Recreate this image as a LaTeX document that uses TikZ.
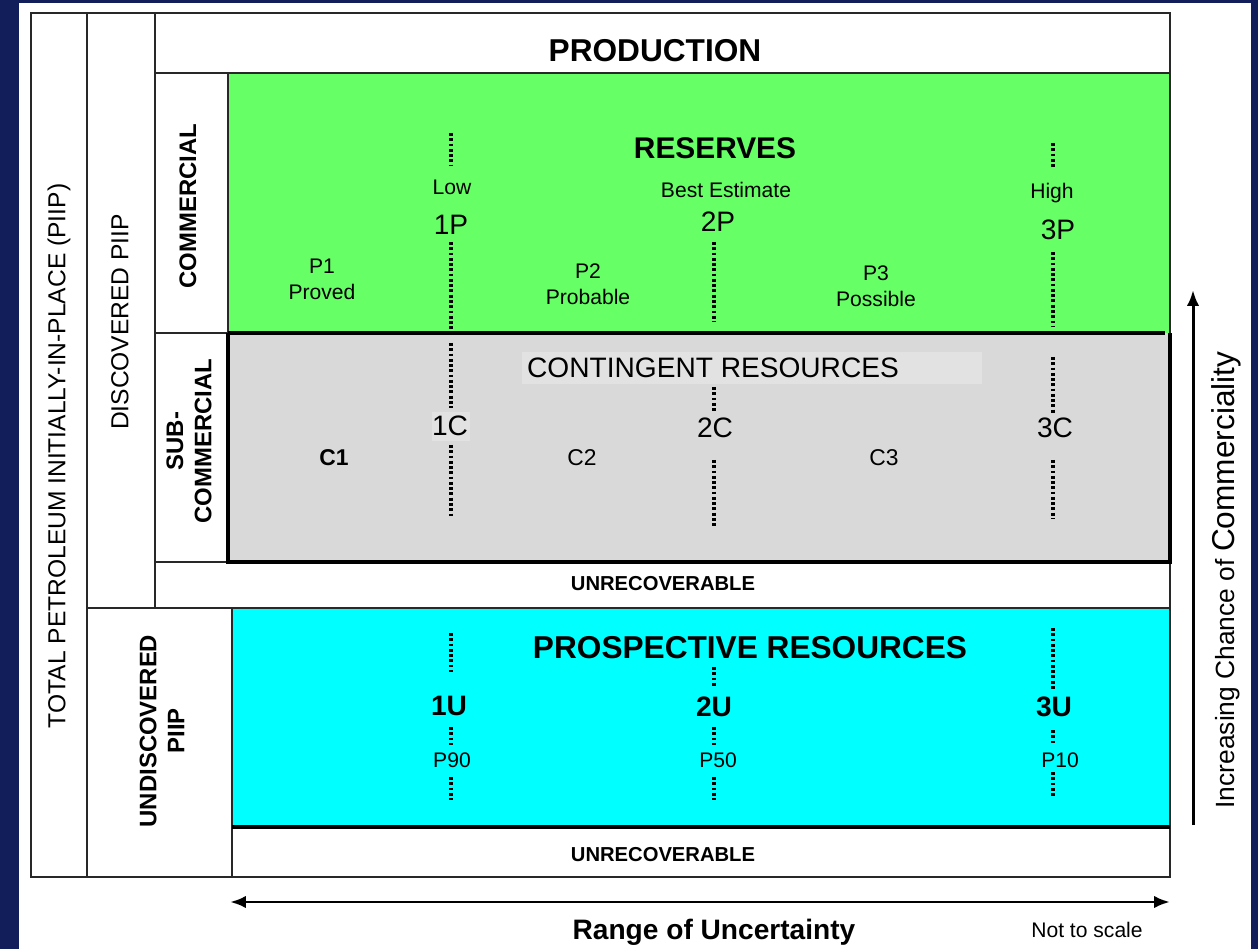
\documentclass[tikz,border=0pt]{standalone}
\usepackage{fontspec}
\setmainfont{Liberation Sans}
\usetikzlibrary{arrows.meta}

\definecolor{navybg}{RGB}{18,30,90}
\definecolor{reservegreen}{RGB}{102,255,102}
\definecolor{contgray}{RGB}{217,217,217}
\definecolor{contlight}{RGB}{226,226,226}
\definecolor{prospcyan}{RGB}{0,255,255}
\definecolor{frameline}{RGB}{40,40,40}

\tikzset{
	thinline/.style={line width=1.1pt, color=frameline},
	thickline/.style={line width=2.3pt, color=black},
	dotline/.style={line width=2pt, dash pattern=on 1.6pt off 1.4pt},
	axisarrow/.style={line width=1.7pt, {Latex[length=9pt,width=7pt]}-{Latex[length=9pt,width=7pt]}},
	uparrow/.style={line width=1.7pt, -{Latex[length=9pt,width=7pt]}},
	smalltxt/.style={inner sep=0pt, font=\fontsize{12}{14.8}\selectfont, align=center},
	sidetxt/.style={inner sep=0pt, rotate=90, font=\fontsize{14}{16}\selectfont, align=center},
	sidebold/.style={sidetxt, font=\fontsize{13.6}{16}\selectfont\bfseries},
	classtxt/.style={inner sep=0pt, font=\fontsize{16}{18}\selectfont},
	titletxt/.style={inner sep=0pt, font=\fontsize{18}{20}\selectfont\bfseries},
}

\begin{document}
\begin{tikzpicture}[x=0.02cm, y=-0.02cm]
		%%%%% START %%%%%
		
		\fill[navybg] (0, 0) rectangle (1258, 949);
		\fill[white] (19, 3) rectangle (1251, 949);
		\useasboundingbox (0, 0) rectangle (1258, 949);
		
		\fill[reservegreen] (228, 73) rectangle (1170, 333);
		\fill[contgray] (228, 333) rectangle (1170, 562);
		\fill[contlight] (522, 352) rectangle (982, 384);
		\fill[contlight] (432, 412) rectangle (470, 441);
		\fill[prospcyan] (232, 608) rectangle (1170, 827);
		
		\draw[thinline] (31, 13) rectangle (1170, 877);
		\draw[thinline] (87, 13) -- (87, 877);
		\draw[thinline] (155, 13) -- (155, 608);
		\draw[thinline] (155, 73) -- (1170, 73);
		\draw[thinline] (87, 608) -- (1170, 608);
		\draw[thinline] (155, 333) -- (228, 333);
		\draw[thinline] (155, 562) -- (228, 562);
		\draw[thinline] (228, 73) -- (228, 333);
		\draw[thinline] (232, 608) -- (232, 877);
		
		\draw[thickline] (228, 333) -- (1165, 333);
		\draw[thickline] (228, 333) -- (228, 562) -- (1170, 562) -- (1170, 333);
		\draw[thickline] (232, 827) -- (1170, 827);
		
		\foreach \x/\ya/\yb in {451/133/165, 451/242/333, 451/343/408, 451/445/518,
			451/633/672, 451/727/745, 451/777/800,
			714/242/322, 714/387/412, 714/460/527,
			714/667/688, 714/727/745, 714/777/800,
			1053/143/168, 1053/252/327, 1053/357/413, 1053/460/518,
			1053/628/690, 1053/730/745, 1053/772/798}
			\draw[dotline] (\x, \ya) -- (\x, \yb);
		
		\node[sidetxt] (piip) at (59, 456) {TOTAL PETROLEUM INITIALLY-IN-PLACE (PIIP)};
		\node[sidetxt] (discpiip) at (120, 322) {DISCOVERED PIIP};
		\node[sidebold] (commercial) at (188, 206) {COMMERCIAL};
		\node[sidebold] (subcomm) at (189, 441) {SUB-\\COMMERCIAL};
		\node[sidebold] (undiscpiip) at (162, 731) {UNDISCOVERED\\PIIP};
		
		\node[titletxt] (production) at (655, 51) {PRODUCTION};
		\node[titletxt, font=\fontsize{17}{19}\selectfont\bfseries] (reserves) at (715, 148) {RESERVES};
		\node[classtxt] (contingent) at (713, 368) {CONTINGENT RESOURCES};
		\node[titletxt] (prospective) at (750, 648) {PROSPECTIVE RESOURCES};
		\node[smalltxt, font=\fontsize{11.5}{13}\selectfont\bfseries] (unrecA) at (663, 584) {UNRECOVERABLE};
		\node[smalltxt, font=\fontsize{11.5}{13}\selectfont\bfseries] (unrecB) at (663, 855) {UNRECOVERABLE};
		
		\node[smalltxt] (low) at (452, 187) {Low};
		\node[smalltxt] (best) at (726, 190) {Best Estimate};
		\node[smalltxt] (high) at (1052, 193) {High};
		\node[classtxt] (p1P) at (451, 225) {1P};
		\node[classtxt] (p2P) at (718, 222) {2P};
		\node[classtxt] (p3P) at (1058, 230) {3P};
		\node[smalltxt] (proved) at (322, 279) {P1\\Proved};
		\node[smalltxt] (probable) at (588, 284) {P2\\Probable};
		\node[smalltxt] (possible) at (876, 286) {P3\\Possible};
		
		\node[classtxt] (c1C) at (450, 426) {1C};
		\node[classtxt] (c2C) at (715, 428) {2C};
		\node[classtxt] (c3C) at (1055, 428) {3C};
		\node[smalltxt, font=\fontsize{13}{15}\selectfont\bfseries] (cone) at (334, 458) {C1};
		\node[smalltxt, font=\fontsize{13}{15}\selectfont] (ctwo) at (582, 458) {C2};
		\node[smalltxt, font=\fontsize{13}{15}\selectfont] (cthree) at (884, 458) {C3};
		
		\node[classtxt, font=\fontsize{16}{18}\selectfont\bfseries] (u1U) at (449, 706) {1U};
		\node[classtxt, font=\fontsize{16}{18}\selectfont\bfseries] (u2U) at (714, 707) {2U};
		\node[classtxt, font=\fontsize{16}{18}\selectfont\bfseries] (u3U) at (1054, 707) {3U};
		\node[smalltxt] (pninety) at (452, 760) {P90};
		\node[smalltxt] (pfifty) at (718, 760) {P50};
		\node[smalltxt] (pten) at (1060, 760) {P10};
		
		\coordinate (rangeL) at (230, 902);
		\coordinate (rangeR) at (1170, 902);
		\draw[axisarrow] (rangeL) -- (rangeR);
		\node[smalltxt, font=\fontsize{16}{18}\selectfont\bfseries] (range) at (714, 932) {Range of Uncertainty};
		\node[smalltxt] (noscale) at (1087, 930) {Not to scale};
		
		\coordinate (chanceB) at (1193, 825);
		\coordinate (chanceT) at (1193, 290);
		\draw[uparrow] (chanceB) -- (chanceT);
		\node[sidetxt, font=\fontsize{15}{17}\selectfont] (chance) at (1226, 580) {Increasing Chance of \fontsize{18}{20}\selectfont Commerciality};
		
		%%%%% END %%%%%
\end{tikzpicture}
\end{document}
